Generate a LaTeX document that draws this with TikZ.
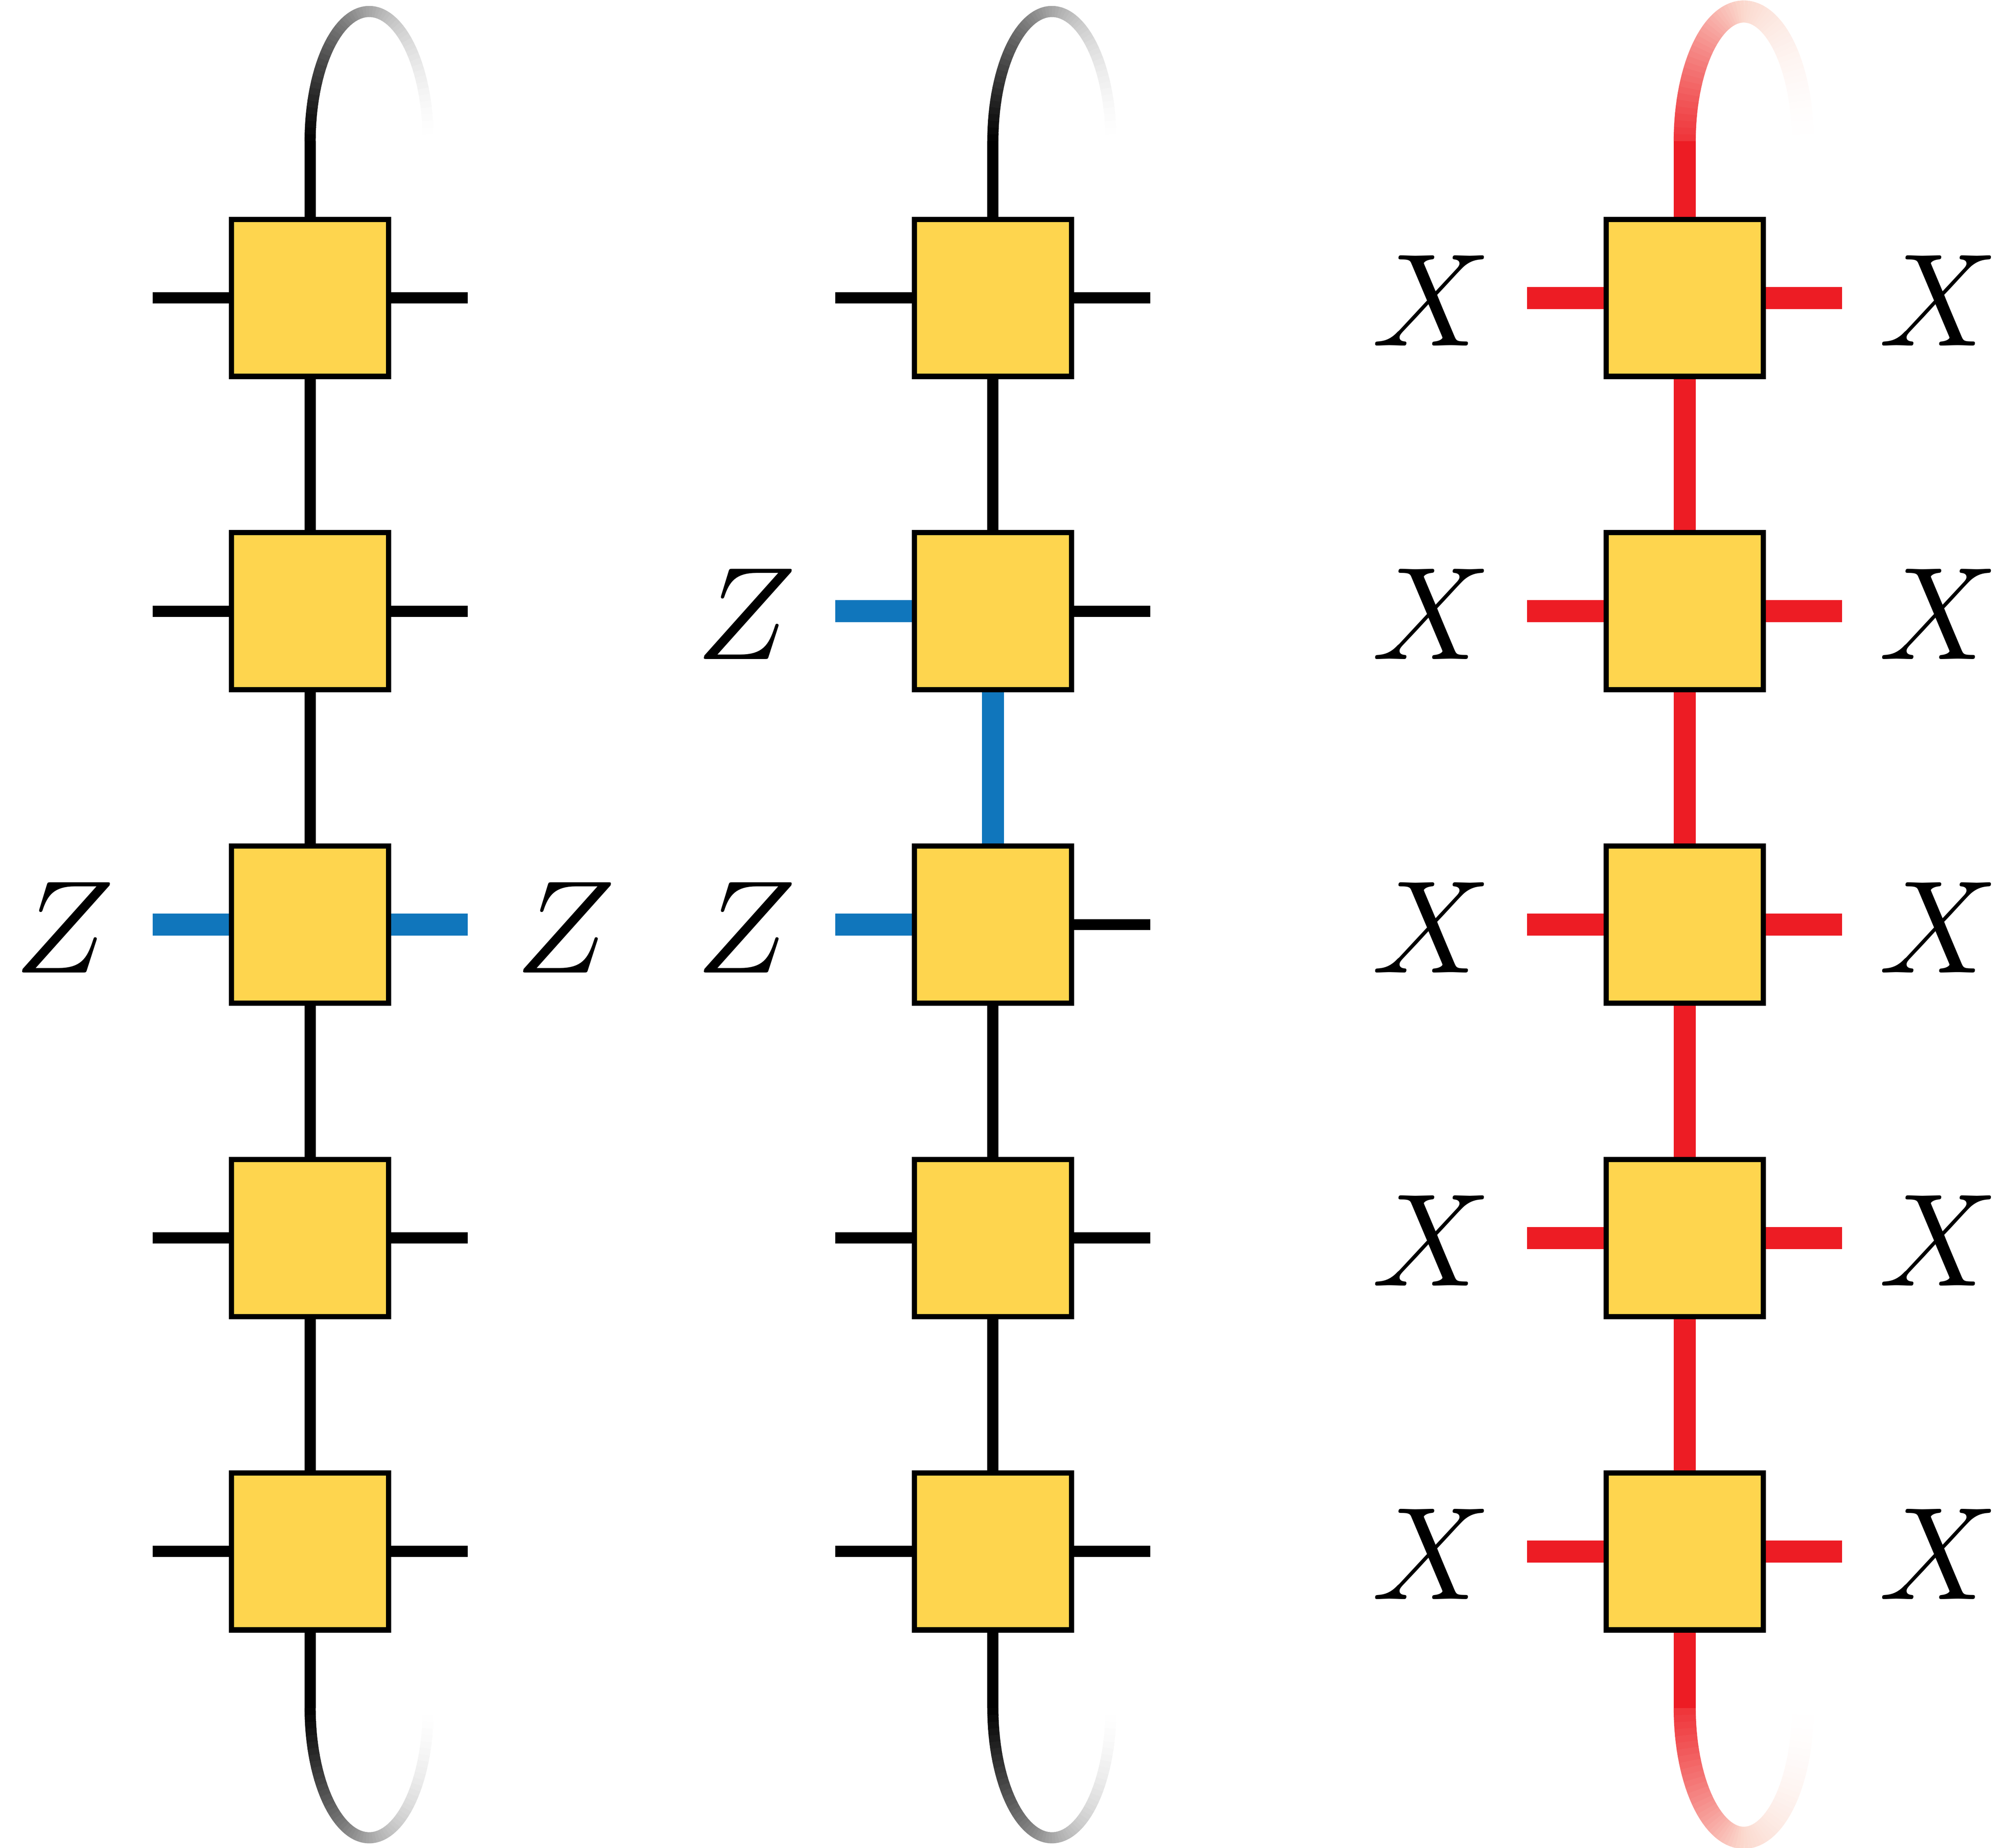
\documentclass[tikz,border=0pt]{standalone}
\usetikzlibrary{positioning, calc}

\definecolor{tensoryellow}{HTML}{FED54E}
\definecolor{zblue}{HTML}{1076BC}
\definecolor{xred}{HTML}{ED1C24}
\definecolor{xpeach}{HTML}{FBD9CE}
\colorlet{loopgray}{black!35}

% fading half loop: start, colour, middle colour, 1 = up / -1 = down, width, start share
\newcommand{\fadeloop}[6]{%
  \foreach \i in {0,...,59}{
    \pgfmathsetmacro\ta{180-3*\i*(#4)}
    \pgfmathsetmacro\tb{\ta-3.4*(#4)}
    \ifnum\i<30
      \pgfmathsetmacro\fade{#6*(1-(\i+0.5)/30)^1.1}
      \colorlet{piece}{#2!\fade!#3}
    \else
      \pgfmathsetmacro\fade{100*(2-(\i+0.5)/30)^1.5}
      \colorlet{piece}{#3!\fade!white}
    \fi
    \draw[line width=#5, piece]
      ($(#1)+({1.485+1.485*cos(\ta)},{3.26*sin(\ta)})$)
      arc[start angle=\ta, end angle=\tb, x radius=1.485, y radius=3.26];
  }
}

\begin{document}
\begin{tikzpicture}[
  tensor/.style={rectangle, draw=black, line width=0.133cm, fill=tensoryellow, minimum size=3.95cm, inner sep=0pt},
  bond/.style={black, line width=0.28cm},
  zbond/.style={zblue, line width=0.555cm},
  xbond/.style={xred, line width=0.555cm},
  lbl/.style={scale=9.45, inner sep=0pt}]
\useasboundingbox (0,0) rectangle (50.40,-46.46);

%nodes
\node[tensor] (a1) at (7.80,-7.49) {};
\node[tensor] (a2) at (7.80,-15.37) {};
\node[tensor] (a3) at (7.80,-23.25) {};
\node[tensor] (a4) at (7.80,-31.13) {};
\node[tensor] (a5) at (7.80,-39.01) {};
\node[tensor] (b1) at (24.97,-7.49) {};
\node[tensor] (b2) at (24.97,-15.37) {};
\node[tensor] (b3) at (24.97,-23.25) {};
\node[tensor] (b4) at (24.97,-31.13) {};
\node[tensor] (b5) at (24.97,-39.01) {};
\node[tensor] (c1) at (42.37,-7.49) {};
\node[tensor] (c2) at (42.37,-15.37) {};
\node[tensor] (c3) at (42.37,-23.25) {};
\node[tensor] (c4) at (42.37,-31.13) {};
\node[tensor] (c5) at (42.37,-39.01) {};

%labels
\node[lbl] (za) at (1.62,-23.32) {$Z$};
\node[lbl] (zb) at (14.22,-23.32) {$Z$};
\node[lbl] (zc) at (18.77,-15.44) {$Z$};
\node[lbl] (zd) at (18.77,-23.32) {$Z$};
\node[lbl] (x1l) at (36.00,-7.56) {$X$};
\node[lbl] (x2l) at (36.00,-15.44) {$X$};
\node[lbl] (x3l) at (36.00,-23.32) {$X$};
\node[lbl] (x4l) at (36.00,-31.20) {$X$};
\node[lbl] (x5l) at (36.00,-39.08) {$X$};
\node[lbl] (x1r) at (48.76,-7.56) {$X$};
\node[lbl] (x2r) at (48.76,-15.44) {$X$};
\node[lbl] (x3r) at (48.76,-23.32) {$X$};
\node[lbl] (x4r) at (48.76,-31.20) {$X$};
\node[lbl] (x5r) at (48.76,-39.08) {$X$};

%free ends
\foreach \n in {a,b,c}{
  \foreach \r in {1,...,5}{
    \coordinate[left=1.92cm of \n\r] (\n\r l);
    \coordinate[right=1.92cm of \n\r] (\n\r r);
  }
  \coordinate[above=1.90cm of \n1] (\n0);
  \coordinate[below=1.90cm of \n5] (\n6);
}

%connections
\draw[bond](a1) -- (a0);
\draw[bond](a1) -- (a2);
\draw[bond](a2) -- (a3);
\draw[bond](a3) -- (a4);
\draw[bond](a4) -- (a5);
\draw[bond](a5) -- (a6);
\foreach \r in {1,2,4,5}{
  \draw[bond](a\r) -- (a\r l);
  \draw[bond](a\r) -- (a\r r);
}
\draw[zbond](a3) -- (a3l);
\draw[zbond](a3) -- (a3r);

\draw[bond](b1) -- (b0);
\draw[bond](b1) -- (b2);
\draw[zbond](b2) -- (b3);
\draw[bond](b3) -- (b4);
\draw[bond](b4) -- (b5);
\draw[bond](b5) -- (b6);
\foreach \r in {1,4,5}{
  \draw[bond](b\r) -- (b\r l);
}
\foreach \r in {1,...,5}{
  \draw[bond](b\r) -- (b\r r);
}
\draw[zbond](b2) -- (b2l);
\draw[zbond](b3) -- (b3l);

\draw[xbond](c1) -- (c0);
\draw[xbond](c1) -- (c2);
\draw[xbond](c2) -- (c3);
\draw[xbond](c3) -- (c4);
\draw[xbond](c4) -- (c5);
\draw[xbond](c5) -- (c6);
\foreach \r in {1,...,5}{
  \draw[xbond](c\r) -- (c\r l);
  \draw[xbond](c\r) -- (c\r r);
}

%loops
\fadeloop{a0}{black}{loopgray}{1}{0.28cm}{100}
\fadeloop{a6}{black}{loopgray}{-1}{0.28cm}{100}
\fadeloop{b0}{black}{loopgray}{1}{0.28cm}{100}
\fadeloop{b6}{black}{loopgray}{-1}{0.28cm}{100}
\fadeloop{c0}{xred}{xpeach}{1}{0.555cm}{88}
\fadeloop{c6}{xred}{xpeach}{-1}{0.555cm}{88}
\end{tikzpicture}
\end{document}
